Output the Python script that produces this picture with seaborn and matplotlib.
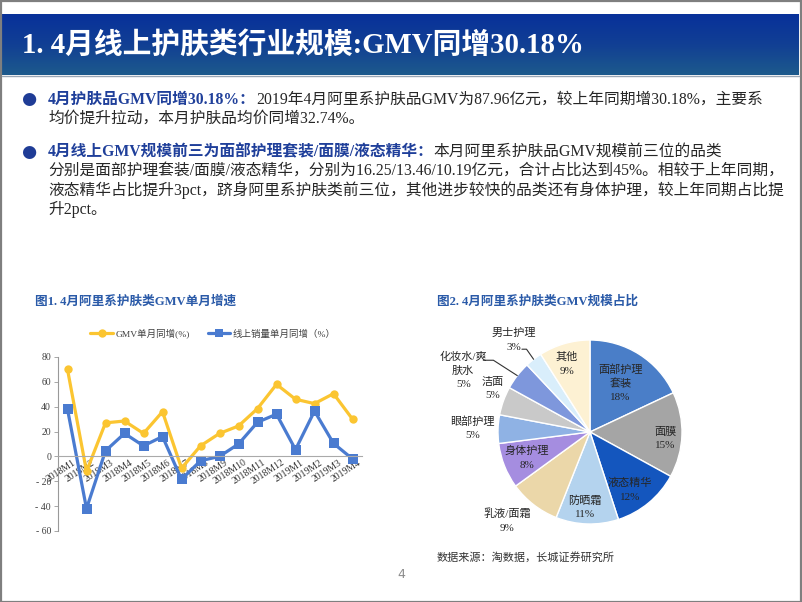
import numpy as np
import pandas as pd
import matplotlib
matplotlib.use("Agg")
import matplotlib.pyplot as plt
import matplotlib.transforms as mtransforms
from matplotlib.patches import Rectangle
from matplotlib.colors import LinearSegmentedColormap
import seaborn as sns

# ---------------- data ----------------
months = ['2018M1', '2018M2', '2018M3', '2018M4', '2018M5', '2018M6', '2018M7', '2018M8',
          '2018M9', '2018M10', '2018M11', '2018M12', '2019M1', '2019M2', '2019M3', '2019M4']
gmv_yoy = [70, -12, 27, 28.5, 18.5, 36, -9.5, 8.5, 18.5, 24.5, 38.5, 58, 46, 42.5, 50.5, 30]
vol_yoy = [38, -42, 4.5, 18.5, 8.5, 16, -18.5, -3.5, 0, 10, 27.5, 34, 5.5, 36.5, 10.5, -2]
series_names = ['GMV单月同增(%)', '线上销量单月同增（%）']
y_ticks = [-60, -40, -20, 0, 20, 40, 60, 80]

pie_labels = ['面部护理\n套装', '面膜', '液态精华', '防晒霜', '乳液/面霜', '身体护理',
              '眼部护理', '洁面', '化妆水/爽\n肤水', '男士护理', '其他']
pie_values = [18, 15, 12, 11, 9, 8, 5, 5, 5, 3, 9]

title_text = '1. 4月线上护肤类行业规模:GMV同增30.18%'
b1_bold = '4月护肤品GMV同增30.18%：'
b1_lines = ['2019年4月阿里系护肤品GMV为87.96亿元，较上年同期增30.18%，主要系',
            '均价提升拉动，本月护肤品均价同增32.74%。']
b2_bold = '4月线上GMV规模前三为面部护理套装/面膜/液态精华：'
b2_lines = ['本月阿里系护肤品GMV规模前三位的品类',
            '分别是面部护理套装/面膜/液态精华，分别为16.25/13.46/10.19亿元，合计占比达到45%。相较于上年同期，',
            '液态精华占比提升3pct，跻身阿里系护肤类前三位，其他进步较快的品类还有身体护理，较上年同期占比提',
            '升2pct。']
fig1_title = '图1. 4月阿里系护肤类GMV单月增速'
fig2_title = '图2. 4月阿里系护肤类GMV规模占比'
source_text = '数据来源：淘数据，长城证券研究所'
page_no = '4'

# ---------------- styles ----------------
sns.set_theme(style='white')
CJK = ['Noto Sans CJK SC', 'DejaVu Sans']
SER = ['Liberation Serif', 'Noto Sans CJK SC', 'DejaVu Sans']
plt.rcParams['font.family'] = CJK
plt.rcParams['axes.unicode_minus'] = False
plt.rcParams['xtick.labelsize'] = 7
plt.rcParams['ytick.labelsize'] = 7

W, H = 802, 602
fig = plt.figure(figsize=(W / 100, H / 100), dpi=100)
fig.patch.set_facecolor('white')


def fx(x):
    return x / W


def fy(y):
    return 1 - y / H


# slide border
fig.patches.append(Rectangle((0.5 / W, 0.5 / H), (W - 2) / W, (H - 1.5) / H, transform=fig.transFigure,
                             fill=False, edgecolor='#7f7f7f', linewidth=1.6))

# title bar with gradient
axb = fig.add_axes([fx(2), fy(75), fx(797), 61 / H])
grad = np.linspace(0, 1, 64).reshape(-1, 1)
cm = LinearSegmentedColormap.from_list('bar', ['#08319a', '#113f94', '#1d5a8c'])
axb.imshow(grad, aspect='auto', cmap=cm, extent=[0, 1, 0, 1], origin='upper')
axb.set_axis_off()
fig.text(fx(22), fy(45), title_text, color='white', fontsize=20.7, fontweight='bold',
         family=SER, va='center', ha='left')
fig.add_artist(plt.Line2D([fx(2), fx(799)], [fy(75.5), fy(75.5)], transform=fig.transFigure,
                          color='#9aa6b4', linewidth=1))

# bullets
body_size = 11.3
blue_bold = '#1f3f9a'
body_col = '#262626'


def bullet(y0, bold, lines, dy=19):
    fig.text(fx(21), fy(y0), '●', color='#1f3c96', fontsize=12.5, family=['DejaVu Sans'],
             va='center', ha='left')
    t = fig.text(fx(48), fy(y0), bold, color=blue_bold, fontsize=body_size, fontweight='bold',
                 family=SER, va='center', ha='left')
    a = matplotlib.text.Annotation(lines[0], xy=(1, 0.5), xycoords=t, va='center', ha='left',
                                   color=body_col, fontsize=body_size, family=SER)
    a.set_figure(fig)
    fig.texts.append(a)
    for i, ln in enumerate(lines[1:], start=1):
        fig.text(fx(48), fy(y0 + i * dy), ln, color=body_col, fontsize=body_size, family=SER,
                 va='center', ha='left')


bullet(99.5, b1_bold, b1_lines)
bullet(152, b2_bold, b2_lines)

# chart titles & footer
fig.text(fx(35), fy(302), fig1_title, color='#2a5aa8', fontsize=9.1, fontweight='bold',
         family=SER, va='center', ha='left')
fig.text(fx(437), fy(302), fig2_title, color='#2a5aa8', fontsize=9.1, fontweight='bold',
         family=SER, va='center', ha='left')
fig.text(fx(437), fy(557), source_text, color='#333333', fontsize=8, family=SER, va='center', ha='left')
fig.text(fx(401), fy(575), page_no, color='#8c8c8c', fontsize=9, va='center', ha='center',
         family=['DejaVu Sans'])

# ---------------- line chart ----------------
yellow = '#FBC531'
blue = '#4A7BD0'
ax1 = fig.add_axes([fx(58), fy(531), 304 / W, 174 / H])
df = pd.DataFrame({
    'x': list(range(len(months))) * 2,
    'value': gmv_yoy + vol_yoy,
    'series': [series_names[0]] * len(months) + [series_names[1]] * len(months),
})
sns.lineplot(data=df, x='x', y='value', hue='series', style='series', hue_order=series_names,
             style_order=series_names, palette=[yellow, blue], markers=['o', 's'], dashes=False,
             linewidth=2.3, markersize=6, markeredgewidth=0, ax=ax1)
ax1.lines[1].set_markersize(7.2)
ax1.set_xlim(-0.5, len(months) - 0.5)
ax1.set_ylim(-60, 80)
ax1.set_xlabel('')
ax1.set_ylabel('')
ax1.set_yticks(y_ticks, [f'- {abs(v)}' if v < 0 else f'{v}' for v in y_ticks])
ax1.set_xticks(range(len(months)), months)
for sp in ['top', 'right']:
    ax1.spines[sp].set_visible(False)
ax1.spines['left'].set_color('#999999')
ax1.spines['left'].set_linewidth(0.8)
ax1.spines['bottom'].set_position(('data', 0))
ax1.spines['bottom'].set_color('#aaaaaa')
ax1.spines['bottom'].set_linewidth(0.8)
ax1.tick_params(axis='y', length=3, width=0.6, color='#999999', pad=2, left=True,
                labelsize=7, labelcolor='#404040')
ax1.tick_params(axis='x', length=0, pad=1, labelsize=7, labelcolor='#333333', labelrotation=33)
off = mtransforms.ScaledTranslation(3.5 / 72, 0, fig.dpi_scale_trans)
for lab in ax1.get_yticklabels():
    lab.set_family(SER)
    lab.set_fontsize(7)
for lab in ax1.get_xticklabels():
    lab.set_family(SER)
    lab.set_fontsize(7)
    lab.set_rotation(33)
    lab.set_ha('right')
    lab.set_va('top')
    lab.set_rotation_mode('anchor')
    lab.set_transform(lab.get_transform() + off)
ax1.set_facecolor('none')
leg = ax1.get_legend()
handles = leg.legend_handles
labels = [t.get_text() for t in leg.get_texts()]
leg.remove()
ax1.legend(handles, labels, loc='center', bbox_to_anchor=(0.51, 1.135), ncol=2, frameon=False,
           prop={'family': SER, 'size': 6.8}, handlelength=2.4, columnspacing=1.9, handletextpad=0.25,
           labelcolor='#404040')

# ---------------- pie chart ----------------
pie_colors = ['#4A7EC8', '#A5A5A5', '#1456BE', '#B4D3EE', '#EBD7A9', '#A58DE0',
              '#8FB2E4', '#C9C9C9', '#7E97DC', '#D9EEFB', '#FDF1D3']
R = 92
ax2 = fig.add_axes([fx(590 - 150), fy(432 + 150), 300 / W, 300 / H])
wedges, _ = ax2.pie(pie_values, colors=pie_colors, startangle=90, counterclock=False,
                    wedgeprops=dict(edgecolor='white', linewidth=1))
lim = 150 / R
ax2.set_xlim(-lim, lim)
ax2.set_ylim(-lim, lim)
ax2.set_axis_off()

label_r = [0.62, 0.82, 0.77, 0.82, 1.32, 0.74, 1.28, 1.16, 1.53, 1.30, 0.78]
label_dang = [0, -3, -5, -2, -5, 1, 0, -4, 12, 2, 2.5]
line_h = 14.0 / R
for w, lab, v, r, da in zip(wedges, pie_labels, pie_values, label_r, label_dang):
    mid = np.deg2rad((w.theta1 + w.theta2) / 2 + da)
    cx, cy = r * np.cos(mid), r * np.sin(mid)
    rows = lab.split('\n') + [f'{v}%']
    n = len(rows)
    for k, row in enumerate(rows):
        ax2.text(cx, cy + ((n - 1) / 2 - k) * line_h, row, ha='center', va='center',
                 fontsize=8, family=SER, color='#262626')

# leader lines (化妆水/爽肤水, 男士护理)
for idx, pts in [(8, [(-1.16, 0.78), (-1.05, 0.78)]), (9, [(-0.74, 0.90), (-0.69, 0.90)])]:
    w = wedges[idx]
    mid = np.deg2rad((w.theta1 + w.theta2) / 2)
    xs = [p[0] for p in pts] + [np.cos(mid)]
    ys = [p[1] for p in pts] + [np.sin(mid)]
    ax2.plot(xs, ys, color='#333333', linewidth=0.8)

fig.savefig('out.png', dpi=100)
